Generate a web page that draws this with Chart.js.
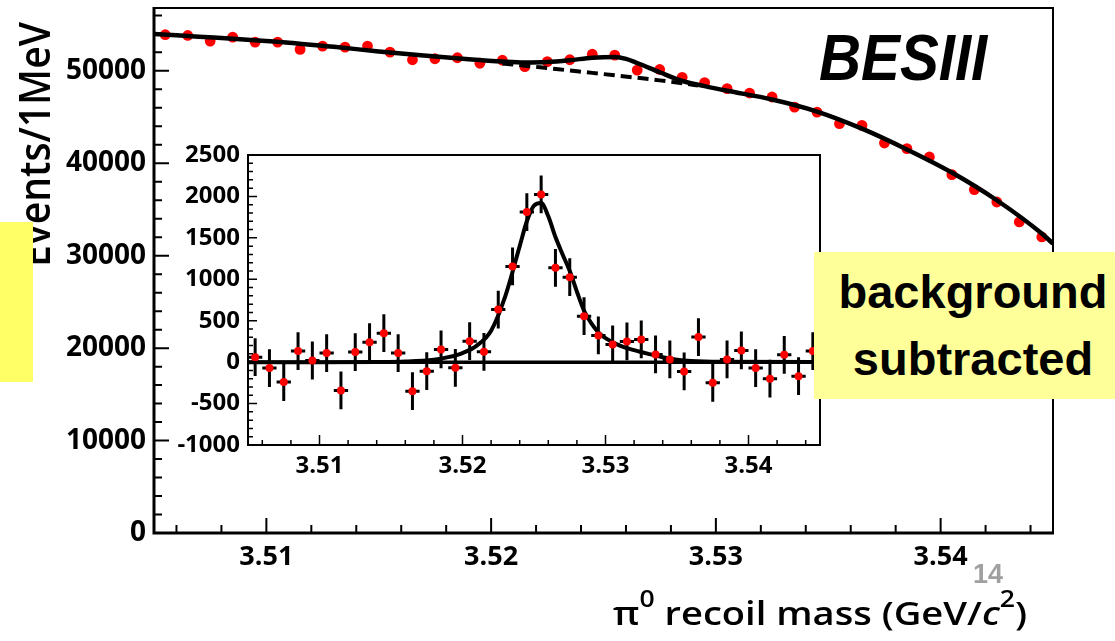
<!DOCTYPE html>
<html>
<head>
<meta charset="utf-8">
<script src="https://cdn.jsdelivr.net/npm/chart.js@4.4.1/dist/chart.umd.min.js"></script>
<style>
  html, body { margin: 0; padding: 0; background: #fff; overflow: hidden; }
  #wrap { position: relative; width: 1115px; height: 641px; overflow: hidden; background: #fff; }
  #main { position: absolute; left: 0; top: 0; }
  #inset { position: absolute; left: 170px; top: 140px; }
  .note { position: absolute; font-family: "Liberation Sans", Arial, sans-serif; font-weight: bold; color: #000; }
  #boxL { left: 0; top: 222px; width: 33px; height: 160px; background: #ffff66; }
  #boxR { left: 814px; top: 252px; width: 318px; height: 147px; background: #ffff99;
          font-size: 47px; line-height: 67px; text-align: center; padding-top: 6px; box-sizing: border-box; }
</style>
</head>
<body>
<div id="wrap">
  <canvas id="main" width="1115" height="641"></canvas>
  <canvas id="inset" width="660" height="340"></canvas>
  <div id="boxL" class="note"></div>
  <div id="boxR" class="note">background<br>subtracted</div>
</div>
<script>
// pi0 recoil mass spectrum, 1 MeV bins
const MASS_BINS = [3.5055,3.5065,3.5075,3.5085,3.5095,3.5105,3.5115,3.5125,3.5135,3.5145,
                   3.5155,3.5165,3.5175,3.5185,3.5195,3.5205,3.5215,3.5225,3.5235,3.5245,
                   3.5255,3.5265,3.5275,3.5285,3.5295,3.5305,3.5315,3.5325,3.5335,3.5345,
                   3.5355,3.5365,3.5375,3.5385,3.5395,3.5405,3.5415,3.5425,3.5435,3.5445];
const EVENTS = [53910,53830,53220,53650,53110,53110,52320,52680,52570,52680,
                52030,51200,51310,51420,50820,51150,50450,51000,51200,51800,
                51700,50080,50150,49300,48730,48070,47600,47170,46080,45540,
                44290,44100,42190,41580,40680,38770,37150,35810,33650,32030];

// fitted total (signal + background) and background only
const FIT_MASS  = [3.505,3.507,3.509,3.511,3.513,3.515,3.517,3.519,3.5205,3.5215,3.5225,3.5235,3.5245,3.5255,
                   3.526,3.5265,3.5275,3.5285,3.5295,3.5305,3.5325,3.5345,3.5365,3.5385,3.5405,3.5425,3.5445,3.545];
const FIT_TOTAL = [54000,53700,53400,53050,52600,52100,51650,51250,51000,50900,50950,51150,51420,51500,
                   51300,50850,49850,48900,48350,47850,46900,45600,43750,41500,39000,36000,32400,31300];
const BKG_MASS  = [3.5205,3.5215,3.5225,3.5235,3.5245,3.5255,3.5265,3.5275,3.5285,3.5292];
const FIT_BKG   = [50800,50560,50300,50040,49780,49520,49250,48970,48650,48420];

// background-subtracted spectrum (inset)
const SUBTRACTED = [60,-72,-241,133,20,109,-342,121,241,350,
                    109,-350,-109,153,-68,253,125,634,1155,1811,
                    2024,1139,1026,555,322,214,250,274,93,33,
                    -112,302,-249,33,141,-72,-200,89,-169,133];
const SUB_ERROR = 228;
const SIG_MASS = [3.505,3.510,3.514,3.516,3.518,3.519,3.520,3.521,3.522,3.523,3.524,3.5245,3.525,3.5255,3.526,
                  3.5265,3.527,3.5275,3.528,3.5285,3.529,3.5295,3.530,3.531,3.532,3.533,3.534,3.535,3.536,3.538,3.545];
const SIG_FIT  = [0,0,2,8,30,60,110,200,380,800,1400,1700,1890,1920,1760,
                  1510,1300,1100,850,620,470,360,290,200,145,100,60,30,15,5,2];

// axis ticks
const MAIN_X_TICKS = [3.51, 3.52, 3.53, 3.54];
const MAIN_Y_TICKS = [0, 10000, 20000, 30000, 40000, 50000];
const INSET_X_TICKS = [3.51, 3.52, 3.53, 3.54];
const INSET_Y_TICKS = [-1000, -500, 0, 500, 1000, 1500, 2000, 2500];

const Y_TITLE = 'Events/1MeV';
const X_TITLE = [
  { t: 'π', style: 'n' }, { t: '0', style: 'sup' }, { t: ' recoil mass (GeV/', style: 'n' },
  { t: 'c', style: 'it' }, { t: '2', style: 'sup' }, { t: ')', style: 'n' }
];
const EXPERIMENT = 'BESIII';
const PAGE_NO = '14';

const pts = (xs, ys) => xs.map((x, i) => ({ x: x, y: ys[i] }));
const TICK_FONT = 'Open Sans';

function fixedAxis(size, horizontal) {
  return function (s) {
    if (horizontal) s.height = size; else s.width = size;
    s.paddingTop = 0; s.paddingBottom = 0; s.paddingLeft = 0; s.paddingRight = 0;
  };
}
function useTicks(list) {
  return function (s) { s.ticks = list.map(v => ({ value: v })); };
}

function drawFrameTicks(chart, o) {
  const { ctx, chartArea: a } = chart;
  const xs = chart.scales.x, ys = chart.scales.y;
  ctx.save();
  ctx.strokeStyle = '#000';
  ctx.lineCap = 'butt';
  ctx.lineWidth = o.tickWidth;
  ctx.beginPath();
  for (let k = 0; ; k++) {
    const v = o.yMinorFrom + k * o.yMinorStep;
    if (v > ys.max + 1e-9) break;
    const p = ys.getPixelForValue(v);
    ctx.moveTo(a.left, p); ctx.lineTo(a.left + o.yMinorLen, p);
  }
  o.yMajor.forEach(v => { const p = ys.getPixelForValue(v); ctx.moveTo(a.left, p); ctx.lineTo(a.left + o.yMajorLen, p); });
  for (let k = 0; ; k++) {
    const v = o.xMinorFrom + k * o.xMinorStep;
    if (v > xs.max + 1e-9) break;
    const p = xs.getPixelForValue(v);
    ctx.moveTo(p, a.bottom); ctx.lineTo(p, a.bottom - o.xMinorLen);
  }
  o.xMajor.forEach(v => { const p = xs.getPixelForValue(v); ctx.moveTo(p, a.bottom); ctx.lineTo(p, a.bottom - o.xMajorLen); });
  ctx.stroke();

  ctx.lineWidth = o.frameWidth;
  ctx.strokeRect(a.left, a.top, a.right - a.left, a.bottom - a.top);
  ctx.lineWidth = o.axisWidth;
  ctx.beginPath();
  ctx.moveTo(a.left, a.top - 1); ctx.lineTo(a.left, a.bottom); ctx.lineTo(a.right + 1, a.bottom);
  ctx.stroke();
  ctx.restore();
}

const mainDeco = {
  id: 'mainDeco',
  beforeDraw(chart) {
    const ctx = chart.ctx;
    ctx.save(); ctx.fillStyle = '#fff'; ctx.fillRect(0, 0, chart.width, chart.height); ctx.restore();
  },
  afterDraw(chart) {
    drawFrameTicks(chart, {
      tickWidth: 2, frameWidth: 2, axisWidth: 3,
      yMajor: MAIN_Y_TICKS, yMinorFrom: 0, yMinorStep: 2000, yMajorLen: 15, yMinorLen: 8,
      xMajor: MAIN_X_TICKS, xMinorFrom: 3.506, xMinorStep: 0.002, xMajorLen: 15, xMinorLen: 8
    });
    const ctx = chart.ctx;

    // vertical axis title, aligned to the top of the axis, spanning 245 px
    ctx.save();
    ctx.fillStyle = '#000';
    ctx.font = '600 44px "Open Sans"';
    ctx.textBaseline = 'alphabetic';
    const yLen = ctx.measureText(Y_TITLE).width;
    ctx.translate(50, 267);
    ctx.rotate(-Math.PI / 2);
    ctx.scale(245 / yLen, 1);
    ctx.fillText(Y_TITLE, 0, 0);
    ctx.restore();

    // horizontal axis title with superscripts, spanning 613..1027 px
    ctx.save();
    ctx.fillStyle = '#000';
    ctx.textBaseline = 'alphabetic';
    const fonts = { n: '600 33px "Open Sans"', it: 'italic 600 33px "Open Sans"', sup: '600 23px "Open Sans"' };
    let total = 0;
    X_TITLE.forEach(p => { ctx.font = fonts[p.style]; p.w = ctx.measureText(p.t).width; total += p.w; });
    ctx.translate(613, 625);
    ctx.scale(414 / total, 1);
    let x = 0;
    X_TITLE.forEach(p => {
      ctx.font = fonts[p.style];
      ctx.fillText(p.t, x, p.style === 'sup' ? -18 : 0);
      x += p.w;
    });
    ctx.restore();

    // experiment label
    ctx.save();
    ctx.fillStyle = '#000';
    ctx.font = 'italic bold 64px "Liberation Sans"';
    ctx.translate(819, 80);
    ctx.scale(0.91, 1);
    ctx.fillText(EXPERIMENT, 0, 0);
    ctx.restore();

    // page number
    ctx.save();
    ctx.fillStyle = '#a0a0a0';
    ctx.font = 'bold 27px "Liberation Sans"';
    ctx.fillText(PAGE_NO, 973, 583);
    ctx.restore();
  }
};

new Chart(document.getElementById('main'), {
  type: 'scatter',
  data: {
    datasets: [
      { data: pts(MASS_BINS, EVENTS), showLine: false, pointRadius: 5.4, pointHoverRadius: 5.4,
        backgroundColor: '#ff0000', borderWidth: 0, order: 3 },
      { data: pts(BKG_MASS, FIT_BKG), showLine: true, pointRadius: 0, borderColor: '#000',
        borderWidth: 4, borderDash: [11, 6], cubicInterpolationMode: 'monotone', order: 2 },
      { data: pts(FIT_MASS, FIT_TOTAL), showLine: true, pointRadius: 0, borderColor: '#000',
        borderWidth: 4.5, cubicInterpolationMode: 'monotone', order: 1 }
    ]
  },
  options: {
    responsive: false, animation: false, devicePixelRatio: 1,
    layout: { padding: { left: 0, top: 8, right: 62, bottom: 0 } },
    plugins: { legend: { display: false }, tooltip: { enabled: false } },
    events: [],
    scales: {
      x: {
        type: 'linear', min: 3.505, max: 3.545,
        grid: { display: false, drawTicks: false }, border: { display: false },
        afterBuildTicks: useTicks(MAIN_X_TICKS),
        afterFit: fixedAxis(108, true),
        ticks: { padding: 8, color: '#000', font: { family: TICK_FONT, size: 27, weight: '700' },
                 maxRotation: 0, autoSkip: false, callback: v => v.toFixed(2) }
      },
      y: {
        type: 'linear', min: 0, max: 56800,
        grid: { display: false, drawTicks: false }, border: { display: false },
        afterBuildTicks: useTicks(MAIN_Y_TICKS),
        afterFit: fixedAxis(154, false),
        ticks: { padding: 8, color: '#000', font: { family: TICK_FONT, size: 28, weight: '700' },
                 autoSkip: false, callback: v => String(v) }
      }
    }
  },
  plugins: [mainDeco]
});

const insetDeco = {
  id: 'insetDeco',
  beforeDraw(chart) {
    const { ctx, chartArea: a } = chart;
    ctx.save(); ctx.fillStyle = '#fff';
    ctx.fillRect(a.left, a.top, a.right - a.left, a.bottom - a.top);
    ctx.restore();
  },
  beforeDatasetsDraw(chart) {
    // error bars of the subtracted spectrum
    const { ctx, chartArea: a } = chart;
    const xs = chart.scales.x, ys = chart.scales.y;
    ctx.save();
    ctx.beginPath();
    ctx.rect(a.left, a.top, a.right - a.left, a.bottom - a.top);
    ctx.clip();
    ctx.strokeStyle = '#000';
    ctx.lineWidth = 3;
    ctx.beginPath();
    MASS_BINS.forEach((m, i) => {
      const v = SUBTRACTED[i];
      const px = xs.getPixelForValue(m);
      const py = ys.getPixelForValue(v);
      ctx.moveTo(px, ys.getPixelForValue(v + SUB_ERROR));
      ctx.lineTo(px, ys.getPixelForValue(v - SUB_ERROR));
      ctx.moveTo(xs.getPixelForValue(m - 0.0005), py);
      ctx.lineTo(xs.getPixelForValue(m + 0.0005), py);
    });
    ctx.stroke();
    ctx.restore();
  },
  afterDraw(chart) {
    drawFrameTicks(chart, {
      tickWidth: 1.5, frameWidth: 2, axisWidth: 2,
      yMajor: INSET_Y_TICKS, yMinorFrom: -1000, yMinorStep: 100, yMajorLen: 9, yMinorLen: 5,
      xMajor: INSET_X_TICKS, xMinorFrom: 3.506, xMinorStep: 0.002, xMajorLen: 10, xMinorLen: 5
    });
  }
};

new Chart(document.getElementById('inset'), {
  type: 'scatter',
  data: {
    datasets: [
      { data: pts(MASS_BINS, SUBTRACTED), showLine: false, pointRadius: 4, pointHoverRadius: 4,
        backgroundColor: '#ff0000', borderWidth: 0, order: 0 },
      { data: pts(SIG_MASS, SIG_FIT), showLine: true, pointRadius: 0, borderColor: '#000',
        borderWidth: 4, cubicInterpolationMode: 'monotone', order: 1 },
      { data: [{ x: 3.505, y: 0 }, { x: 3.545, y: 0 }], showLine: true, pointRadius: 0,
        borderColor: '#000', borderWidth: 3.5, order: 2 }
    ]
  },
  options: {
    responsive: false, animation: false, devicePixelRatio: 1,
    layout: { padding: { left: 0, top: 15, right: 10, bottom: 0 } },
    plugins: { legend: { display: false }, tooltip: { enabled: false } },
    events: [],
    scales: {
      x: {
        type: 'linear', min: 3.505, max: 3.545,
        grid: { display: false, drawTicks: false }, border: { display: false },
        afterBuildTicks: useTicks(INSET_X_TICKS),
        afterFit: fixedAxis(35, true),
        ticks: { padding: 7, color: '#000', font: { family: TICK_FONT, size: 24, weight: '700' },
                 maxRotation: 0, autoSkip: false, callback: v => v.toFixed(2) }
      },
      y: {
        type: 'linear', min: -1000, max: 2500,
        grid: { display: false, drawTicks: false }, border: { display: false },
        afterBuildTicks: useTicks(INSET_Y_TICKS),
        afterFit: fixedAxis(78, false),
        ticks: { padding: 8, color: '#000', font: { family: TICK_FONT, size: 24, weight: '700' },
                 autoSkip: false, callback: v => String(v) }
      }
    }
  },
  plugins: [insetDeco]
});
</script>
</body>
</html>
